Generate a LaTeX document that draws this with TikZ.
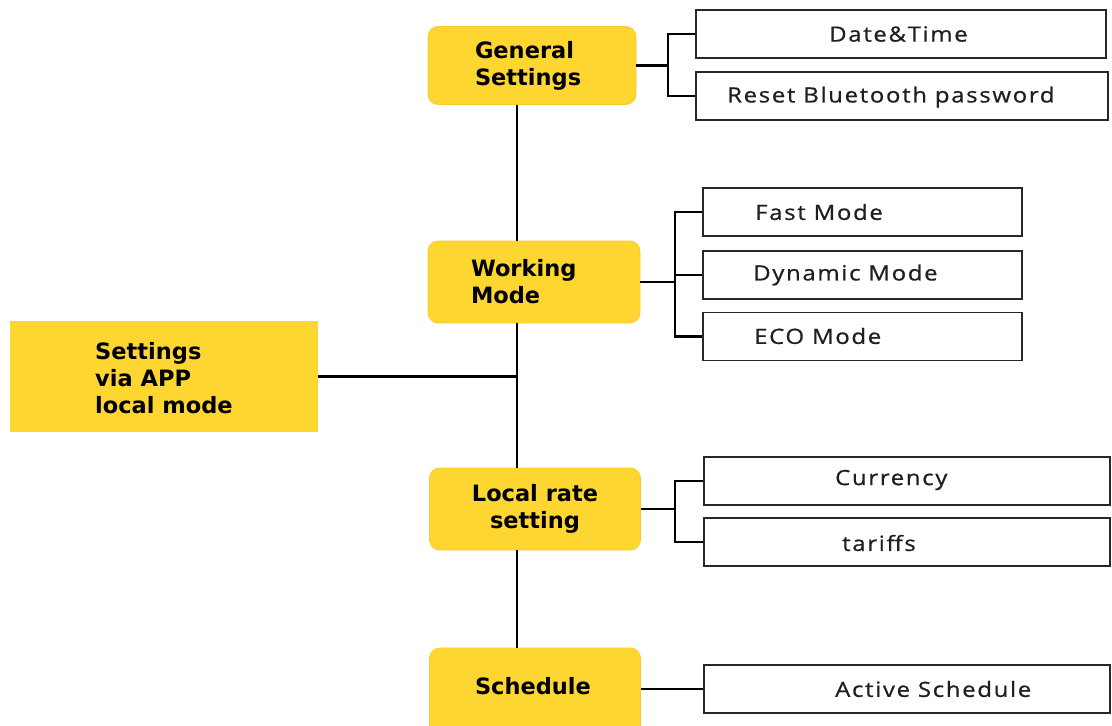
\documentclass[tikz,border=0pt]{standalone}
\usepackage{fontspec}
\setmainfont{DejaVu Sans}
\newfontfamily\itemfont[FakeStretch=1.14, LetterSpace=8, FakeBold=0.7]{Open Sans}
\definecolor{menuyellow}{RGB}{253,214,50}
\definecolor{boxline}{RGB}{40,40,40}
\begin{document}
\begin{tikzpicture}[x=1pt,y=-1pt,
  ybox/.style={fill=menuyellow, draw=menuyellow!85!orange, line width=0.6pt,
    rounded corners=10pt, inner sep=0pt, align=left,
    font=\fontsize{22.5}{27}\selectfont\bfseries},
  appbox/.style={fill=menuyellow, draw=none, inner sep=0pt},
  wbox/.style={draw=boxline, fill=white, line width=1.9pt, inner sep=0pt},
  itemtext/.style={inner sep=0pt, anchor=west, text=black!88, font=\itemfont\fontsize{21}{24}\selectfont},
  link/.style={draw=black, line width=2.2pt}]
\useasboundingbox (0,0) rectangle (1112,726);
\clip (0,0) rectangle (1112,726);

% main trunk position and bracket columns
\coordinate (trunk) at (517,0);
\coordinate (colA) at (668,0);
\coordinate (colB) at (675,0);

% level-one nodes
\node[appbox, minimum width=308pt, minimum height=111pt] (app) at (164,376.5) {};
\node[inner sep=0pt, anchor=west, align=left,
  font=\fontsize{22.5}{27}\selectfont\bfseries] (apptext) at (95,378)
  {Settings\\via APP\\local mode};

\node[ybox, minimum width=208pt, minimum height=78pt, inner xsep=47pt, text width=114pt]
  (gs) at (532,65.5) {General\\Settings};
\node[ybox, minimum width=212pt, minimum height=82pt, inner xsep=43pt, text width=126pt]
  (wm) at (534,282) {Working\\Mode};
\node[ybox, minimum width=211pt, minimum height=82pt, align=center] (lr) at (535,509) {Local rate\\setting};
\node[ybox, minimum width=211pt, minimum height=100pt] (sc) at (535,698) {};
\node[inner sep=0pt, font=\fontsize{22.5}{27}\selectfont\bfseries] (sctext) at (533,686) {Schedule};

% level-two boxes
\node[wbox, minimum width=410pt, minimum height=48pt] (dt) at (901,34) {};
\node[itemtext] (dttext) at (829,34) {Date\&Time};
\node[wbox, minimum width=412pt, minimum height=48pt] (bt) at (902,96) {};
\node[itemtext] (bttext) at (727,97) {Reset Bluetooth password};

\node[wbox, minimum width=319pt, minimum height=48pt] (fm) at (862.5,212) {};
\node[itemtext] (fmtext) at (755,212) {Fast Mode};
\node[wbox, minimum width=319pt, minimum height=48pt] (dm) at (862.5,275) {};
\node[itemtext] (dmtext) at (753,275) {Dynamic Mode};
\node[wbox, minimum width=319pt, minimum height=48pt] (eco) at (862.5,336.5) {};
\node[itemtext] (ecotext) at (754,336) {ECO Mode};

\node[wbox, minimum width=406pt, minimum height=48pt] (cu) at (907,481) {};
\node[itemtext] (cutext) at (835,480) {Currency};
\node[wbox, minimum width=406pt, minimum height=48pt] (ta) at (907,542) {};
\node[itemtext] (tatext) at (842,543) {tariffs};

\node[wbox, minimum width=406pt, minimum height=48pt] (as) at (907,689) {};
\node[itemtext] (astext) at (835,689) {Active Schedule};

% trunk
\draw[link] (gs.south -| trunk) -- (wm.north -| trunk);
\draw[link] (wm.south -| trunk) -- (lr.north -| trunk);
\draw[link] (lr.south -| trunk) -- (sc.north -| trunk);
\draw[link] (app.east) -- (app.east -| trunk);

% brackets to the option boxes
\draw[link] (gs.east) -- (gs.east -| colA);
\draw[link] (dt.west) -- (dt.west -| colA) -- (bt.west -| colA) -- (bt.west);

\draw[link] (wm.east) -- (wm.east -| colB);
\draw[link] (fm.west) -- (fm.west -| colB) -- (eco.west -| colB) -- (eco.west);
\draw[link] (dm.west) -- (dm.west -| colB);

\draw[link] (lr.east) -- (lr.east -| colB);
\draw[link] (cu.west) -- (cu.west -| colB) -- (ta.west -| colB) -- (ta.west);

\draw[link] (sc.east |- as.west) -- (as.west);
\end{tikzpicture}
\end{document}
